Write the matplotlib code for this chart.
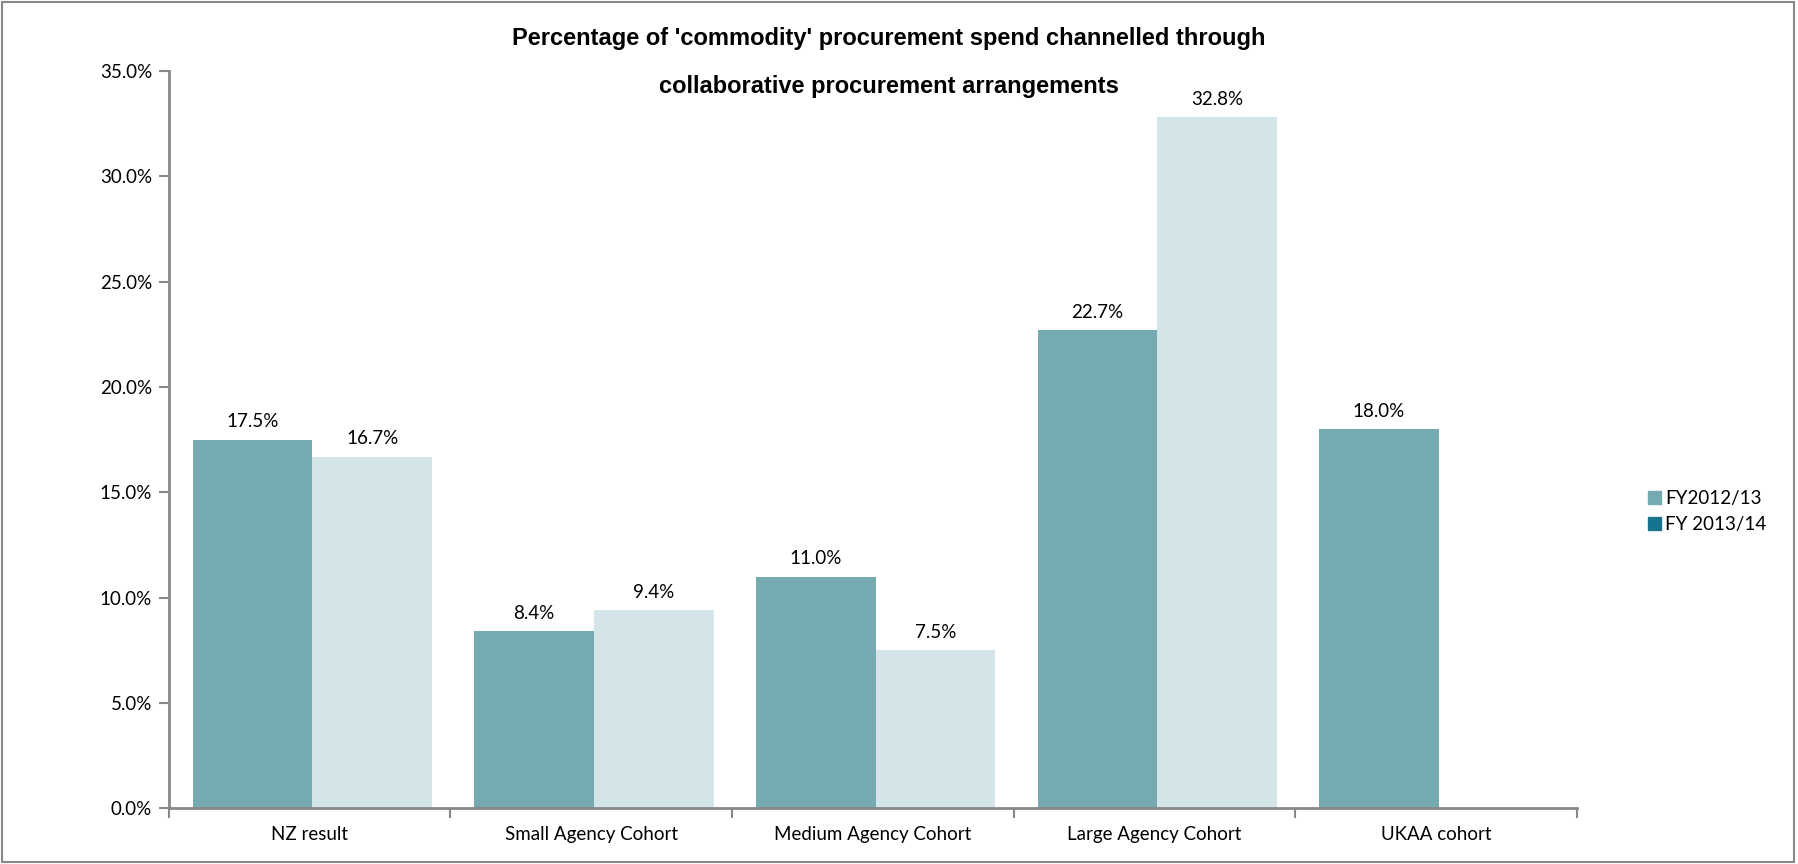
import matplotlib
matplotlib.use("Agg")
import matplotlib.pyplot as plt
import matplotlib.patches as mpatches
from matplotlib.ticker import FuncFormatter, FixedLocator
import numpy as np

categories = ["NZ result", "Small Agency Cohort", "Medium Agency Cohort",
              "Large Agency Cohort", "UKAA cohort"]
fy2012 = [17.5, 8.4, 11.0, 22.7, 18.0]
fy2013 = [16.7, 9.4, 7.5, 32.8, np.nan]
series_names = ["FY2012/13", "FY 2013/14"]
title_lines = ["Percentage of 'commodity' procurement spend channelled through",
               "collaborative procurement arrangements"]

bar_colors = ["#74AAB0", "#D3E5E8"]
legend_colors = ["#74AAB0", "#17748F"]
label_font = "Lato"
fs = 13.5

fig = plt.figure(figsize=(17.98, 8.64), dpi=100)
ax = fig.add_axes([0.0938, 0.0644, 0.877 - 0.0938, 0.9177 - 0.0644])

x = np.arange(len(categories))
w = 0.425
ax.bar(x - w / 2 + 0.01, fy2012, width=w, color=bar_colors[0], zorder=2)
ax.bar(x + w / 2 + 0.01, fy2013, width=w, color=bar_colors[1], zorder=2)

for xi, v in zip(x - w / 2 + 0.01, fy2012):
    if not np.isnan(v):
        ax.annotate(f"{v:.1f}%", (xi, v), xytext=(0, 13), textcoords="offset points",
                    ha="center", va="center", fontsize=fs, family=label_font)
for xi, v in zip(x + w / 2 + 0.01, fy2013):
    if not np.isnan(v):
        ax.annotate(f"{v:.1f}%", (xi, v), xytext=(0, 13), textcoords="offset points",
                    ha="center", va="center", fontsize=fs, family=label_font)

ax.set_xlim(-0.5, len(categories) - 0.5)
ax.set_ylim(0, 35)
ax.yaxis.set_major_locator(FixedLocator(np.arange(0, 35.1, 5)))
ax.yaxis.set_major_formatter(FuncFormatter(lambda v, p: f"{v:.1f}%"))
ax.set_xticks(x)
ax.set_xticklabels(categories)
ax.xaxis.set_minor_locator(FixedLocator(np.arange(-0.5, len(categories), 1)))
ax.tick_params(axis="x", which="major", length=0, pad=13)
ax.tick_params(axis="x", which="minor", length=7, width=1.5, color="#888888")
ax.tick_params(axis="y", length=7, width=1.5, color="#888888", pad=5)
for lab in ax.get_xticklabels() + ax.get_yticklabels():
    lab.set_family(label_font)
    lab.set_fontsize(fs)

for s in ["top", "right"]:
    ax.spines[s].set_visible(False)
for s in ["left", "bottom"]:
    ax.spines[s].set_color("#888888")
    ax.spines[s].set_linewidth(2)
    ax.spines[s].set_zorder(3)

for line, yp in zip(title_lines, [1 - 38 / 864, 1 - 86 / 864]):
    fig.text(0.4944, yp, line, ha="center", va="center", fontsize=17,
             fontweight="bold", family="Liberation Sans")

handles = [mpatches.Patch(color=c, label=n) for c, n in zip(legend_colors, series_names)]
fig.legend(handles=handles, loc="center left", bbox_to_anchor=(0.907, 0.408),
           frameon=False, prop={"family": label_font, "size": fs},
           handlelength=0.7, handleheight=0.7, handletextpad=0.25, labelspacing=0.45)

fig.patches.append(mpatches.Rectangle((0.001, 0.002), 0.997, 0.996, transform=fig.transFigure,
                                      fill=False, edgecolor="#888888", linewidth=1.5))

fig.savefig("out.png", dpi=100)
